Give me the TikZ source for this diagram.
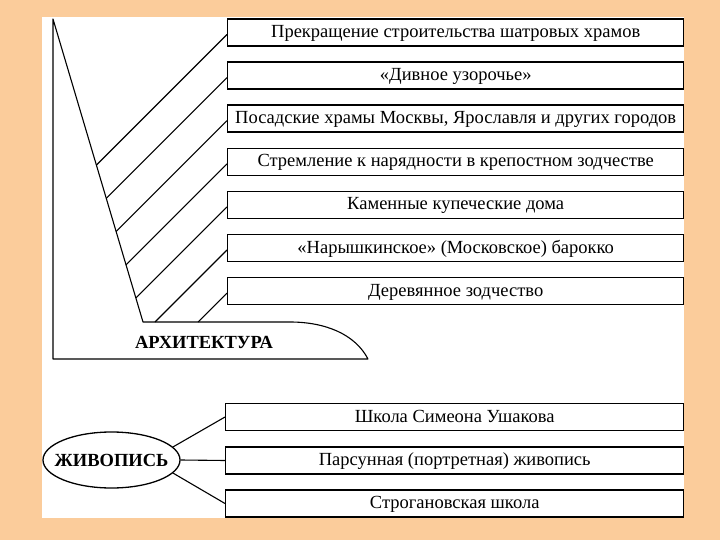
\documentclass[tikz,border=0pt]{standalone}
\usepackage{fontspec}
\setmainfont{Liberation Serif}
\usetikzlibrary{shapes.geometric,intersections}
\definecolor{peach}{RGB}{251,204,155}
\begin{document}
\begin{tikzpicture}[x=1pt,y=-1pt,
  box/.style={draw, line width=1.4pt, minimum height=27pt, inner sep=0pt, anchor=west,
    text height=12.5pt, text depth=2.5pt,
    font=\fontsize{18.5}{21}\selectfont},
  abox/.style={box, minimum width=456pt},
  pbox/.style={box, minimum width=458pt},
  ln/.style={line width=1.1pt},
  bold/.style={font=\bfseries\fontsize{18.5}{21}\selectfont}]
\useasboundingbox (0,0) rectangle (720,540);
\fill[peach] (0,0) rectangle (720,540);
\fill[white] (42,17) rectangle (684,518);
% architecture shape
\draw[ln, line join=round] (53,19) -- (53,359) -- (368,359)
  .. controls (355,334) and (325,322) .. (290,322) -- (143,322) -- cycle;
\path[name path=edge] (53,19) -- (143,322) -- (290,322);
\node[bold] (ar) at (204,342) {АРХИТЕКТУРА};
% boxes
\node[abox] (a1) at (227,32.5) {Прекращение строительства шатровых храмов};
\node[abox] (a2) at (227,75.6) {«Дивное узорочье»};
\node[abox] (a3) at (227,118.7) {Посадские храмы Москвы, Ярославля и других городов};
\node[abox] (a4) at (227,161.8) {Стремление к нарядности в крепостном зодчестве};
\node[abox] (a5) at (227,204.9) {Каменные купеческие дома};
\node[abox] (a6) at (227,248) {«Нарышкинское» (Московское) барокко};
\node[abox] (a7) at (227,291.1) {Деревянное зодчество};
\foreach \i in {1,...,7}{
  \path[name path=h\i] ([yshift=-2pt]a\i.west) -- ++(-320,320);
  \draw[ln, name intersections={of=edge and h\i}] ([yshift=-2pt]a\i.west) -- (intersection-1);
}
% painting
\node[ellipse, draw, line width=1.3pt, minimum width=137pt, minimum height=56pt, inner sep=0pt]
  (zh) at (111.5,460) {};
\node[bold] (zht) at (zh.center) {ЖИВОПИСЬ};
\node[pbox] (p1) at (225,417) {Школа Симеона Ушакова};
\node[pbox] (p2) at (225,460.5) {Парсунная (портретная) живопись};
\node[pbox] (p3) at (225,503.5) {Строгановская школа};
\draw[ln] (zh.12) -- (p1.west);
\draw[ln] (zh.east) -- (p2.west);
\draw[ln] (zh.-12) -- (p3.west);
\end{tikzpicture}
\end{document}
